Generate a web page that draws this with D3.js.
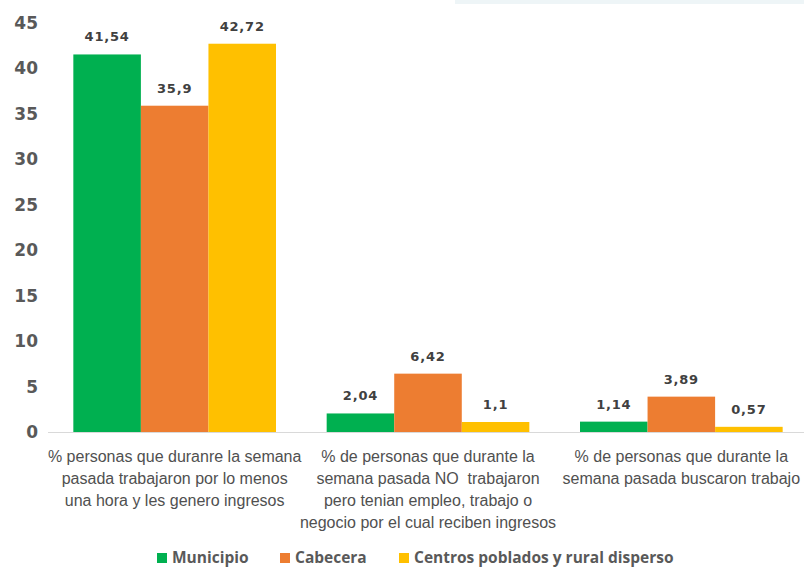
<!DOCTYPE html>
<html>
<head>
<meta charset="utf-8">
<script src="https://cdn.jsdelivr.net/npm/d3@7"></script>
<style>
  body { margin: 0; background: #fff; }
  svg { display: block; }
</style>
</head>
<body>
<div id="chart"></div>
<script>
// chart size = window size
const width = 804;
const height = 569;

// data
const categories = [
  ["% personas que duranre la semana", "pasada trabajaron por lo menos", "una hora y les genero ingresos"],
  ["% de personas que durante la", "semana pasada NO  trabajaron", "pero tenian empleo, trabajo o", "negocio por el cual reciben ingresos"],
  ["% de personas que durante la", "semana pasada buscaron trabajo"]
];
const seriesNames = ["Municipio", "Cabecera", "Centros poblados y rural disperso"];
const municipio = [41.54, 2.04, 1.14];
const cabecera = [35.9, 6.42, 3.89];
const rural = [42.72, 1.1, 0.57];
const yTicks = [0, 5, 10, 15, 20, 25, 30, 35, 40, 45];

const colors = ["#00B050", "#ED7D31", "#FFC000"];
const series = [municipio, cabecera, rural];

const svg = d3.select("#chart")
  .append("svg")
  .attr("width", width)
  .attr("height", height);

// faint decoration at the very top
svg.append("rect")
  .attr("x", 455).attr("y", 0)
  .attr("width", 349).attr("height", 4)
  .style("fill", "#eef5f7");

const x0 = d3.scaleBand()
  .domain(d3.range(categories.length))
  .range([48, 808])
  .paddingInner(0.2)
  .paddingOuter(0.1);

const x1 = d3.scaleBand()
  .domain(d3.range(seriesNames.length))
  .range([0, x0.bandwidth()]);

const y = d3.scaleLinear()
  .domain([0, 45])
  .range([432, 23]);

// y axis labels
svg.append("g")
  .selectAll("text")
  .data(yTicks)
  .enter()
  .append("text")
  .attr("x", 38)
  .attr("y", d => y(d))
  .attr("dy", "0.35em")
  .attr("text-anchor", "end")
  .style("font-family", "'DejaVu Sans', sans-serif")
  .style("font-weight", "bold")
  .style("font-size", "17px")
  .style("fill", "#595959")
  .text(d => d);

// bars
const groups = svg.append("g")
  .selectAll("g")
  .data(categories)
  .enter()
  .append("g")
  .attr("transform", (d, i) => "translate(" + x0(i) + ",0)");

groups.each(function (c, ci) {
  const g = d3.select(this);
  series.forEach((s, si) => {
    g.append("rect")
      .attr("x", x1(si))
      .attr("y", y(s[ci]))
      .attr("width", x1.bandwidth())
      .attr("height", y(0) - y(s[ci]))
      .style("fill", colors[si]);
    g.append("text")
      .attr("x", x1(si) + x1.bandwidth() / 2)
      .attr("y", y(s[ci]) - 13)
      .attr("text-anchor", "middle")
      .style("font-family", "'DejaVu Sans', sans-serif")
      .style("font-weight", "bold")
      .style("font-size", "13px")
      .style("letter-spacing", "0.8px")
      .style("fill", "#404040")
      .text(String(s[ci]).replace(".", ","));
  });
});

// baseline
svg.append("line")
  .attr("x1", 48).attr("x2", 804)
  .attr("y1", y(0) + 0.5).attr("y2", y(0) + 0.5)
  .style("stroke", "#d9d9d9")
  .style("stroke-width", 1);

// category labels
categories.forEach((lines, i) => {
  const t = svg.append("text")
    .attr("text-anchor", "middle")
    .style("font-family", "'Liberation Sans Narrow', 'Arial Narrow', sans-serif")
    .style("font-size", "16px")
    .style("white-space", "pre")
    .style("fill", "#505050");
  lines.forEach((l, li) => {
    t.append("tspan")
      .attr("x", x0(i) + x0.bandwidth() / 2)
      .attr("y", 462 + li * 22)
      .text(l);
  });
});

// legend
const legendX = [157, 280, 399];
const legend = svg.append("g")
  .selectAll("g")
  .data(seriesNames)
  .enter()
  .append("g")
  .attr("transform", (d, i) => "translate(" + legendX[i] + ",553)");

legend.append("rect")
  .attr("width", 10).attr("height", 10)
  .style("fill", (d, i) => colors[i]);

legend.append("text")
  .attr("x", 15)
  .attr("y", 5)
  .attr("dy", "0.35em")
  .style("font-family", "'Open Sans', sans-serif")
  .style("font-weight", "bold")
  .style("font-size", "15.5px")
  .style("fill", "#595959")
  .text(d => d);
</script>
</body>
</html>
